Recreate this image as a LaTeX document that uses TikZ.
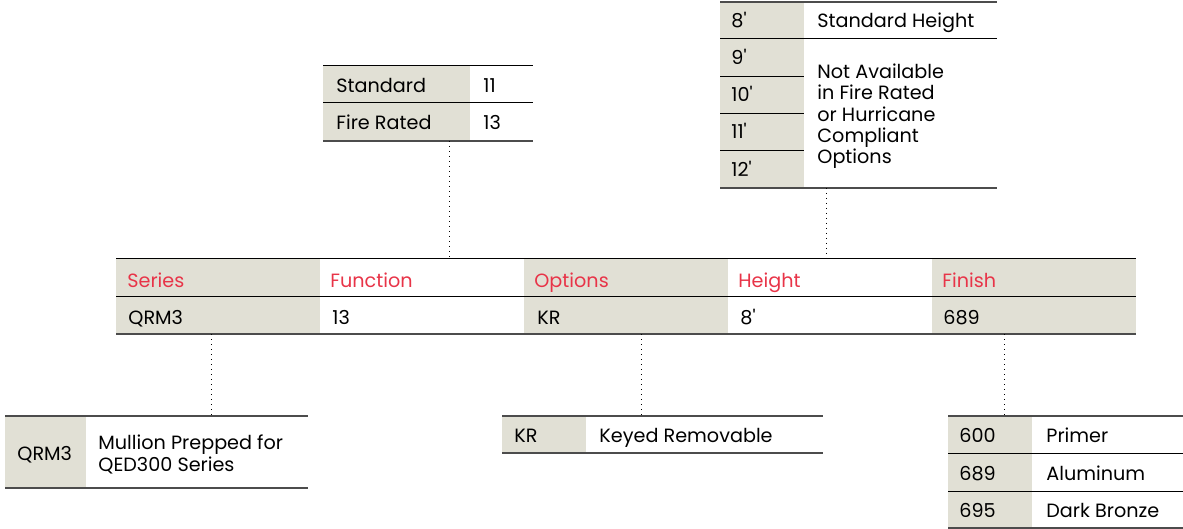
\documentclass[tikz,border=0pt]{standalone}
\usepackage{fontspec}
\setmainfont{Poppins}
\usepackage{tikz}

\definecolor{panel}{RGB}{225,224,213}
\definecolor{label}{RGB}{232,52,72}
\newcommand{\ft}{\textquotesingle}

\begin{document}
\begin{tikzpicture}[x=0.5pt,y=-0.5pt,
    txt/.style={anchor=base west,inner sep=0pt,font=\fontsize{9.6}{10.7}\selectfont},
    head/.style={txt,text=label},
    rule/.style={line width=0.5pt},
    edge/.style={line width=0.7pt,black!70},
    link/.style={dotted,line width=0.5pt}]
  \useasboundingbox (0,0) rectangle (1183,529);

  % main code table
  \fill[panel] (116,259) rectangle (320,334);
  \fill[panel] (524,259) rectangle (728,334);
  \fill[panel] (932,259) rectangle (1136,334);
  \draw[rule] (116,259) -- (1136,259);
  \draw[rule] (116,297) -- (1136,297);
  \draw[edge] (116,334) -- (1136,334);
  \node[head] (hser) at (127,287) {Series};
  \node[head] (hfun) at (330,287) {Function};
  \node[head] (hopt) at (534,287) {Options};
  \node[head] (hhgt) at (738,287) {Height};
  \node[head] (hfin) at (942,287) {Finish};
  \node[txt] (vser) at (128,324) {QRM3};
  \node[txt] (vfun) at (332,324) {13};
  \node[txt] (vopt) at (537,324) {KR};
  \node[txt] (vhgt) at (740,324) {8\ft};
  \node[txt] (vfin) at (943,324) {689};

  % function table
  \fill[panel] (323,66) rectangle (470,141);
  \draw[rule] (323,66) -- (533,66);
  \draw[rule] (323,103) -- (533,103);
  \draw[edge] (323,141) -- (533,141);
  \node[txt] (fstd) at (336,93) {Standard};
  \node[txt] (ffr) at (336,130) {Fire Rated};
  \node[txt] (fstdv) at (483,93) {11};
  \node[txt] (ffrv) at (483,130) {13};

  % height table
  \fill[panel] (720,2) rectangle (804,188);
  \draw[edge] (720,2) -- (997,2);
  \draw[rule] (720,39) -- (997,39);
  \foreach \y in {77,114,151}
    \draw[rule] (720,\y) -- (804,\y);
  \draw[edge] (720,188) -- (997,188);
  \node[txt] (h8) at (731,28) {8\ft};
  \node[txt] (h9) at (731,65) {9\ft};
  \node[txt] (h10) at (731,102) {10\ft};
  \node[txt] (h11) at (731,139) {11\ft};
  \node[txt] (h12) at (731,177) {12\ft};
  \node[txt] (hstd) at (817,28) {Standard Height};
  \node[txt,align=left] (hna) at (817,164)
    {Not Available\\in Fire Rated\\or Hurricane\\Compliant\\Options};

  % series table
  \fill[panel] (5,416) rectangle (86,488);
  \draw[edge] (5,416) -- (308,416);
  \draw[edge] (5,488) -- (308,488);
  \node[txt] (sq) at (17,460) {QRM3};
  \node[txt,align=left] (sdesc) at (98,471) {Mullion Prepped for\\QED300 Series};

  % options table
  \fill[panel] (502,416) rectangle (586,453);
  \draw[edge] (502,416) -- (823,416);
  \draw[edge] (502,453) -- (823,453);
  \node[txt] (okr) at (514,442) {KR};
  \node[txt] (okrd) at (599,442) {Keyed Removable};

  % finish table
  \fill[panel] (948,416) rectangle (1032,528);
  \draw[edge] (948,416) -- (1183,416);
  \draw[rule] (948,453) -- (1183,453);
  \draw[rule] (948,491) -- (1183,491);
  \draw[edge] (948,528) -- (1183,528);
  \node[txt] (f600) at (959,442) {600};
  \node[txt] (f689) at (959,480) {689};
  \node[txt] (f695) at (959,517) {695};
  \node[txt] (fpri) at (1046,442) {Primer};
  \node[txt] (falu) at (1046,480) {Aluminum};
  \node[txt] (fdbr) at (1046,517) {Dark Bronze};

  % dotted leaders
  \coordinate (fun-a) at (449,141);
  \coordinate (fun-b) at (449,259);
  \coordinate (hgt-a) at (826,188);
  \coordinate (hgt-b) at (826,259);
  \coordinate (ser-a) at (211,334);
  \coordinate (ser-b) at (211,416);
  \coordinate (opt-a) at (641,334);
  \coordinate (opt-b) at (641,416);
  \coordinate (fin-a) at (1004,334);
  \coordinate (fin-b) at (1004,416);
  \draw[link] (fun-a) -- (fun-b);
  \draw[link] (hgt-a) -- (hgt-b);
  \draw[link] (ser-a) -- (ser-b);
  \draw[link] (opt-a) -- (opt-b);
  \draw[link] (fin-a) -- (fin-b);
\end{tikzpicture}
\end{document}
